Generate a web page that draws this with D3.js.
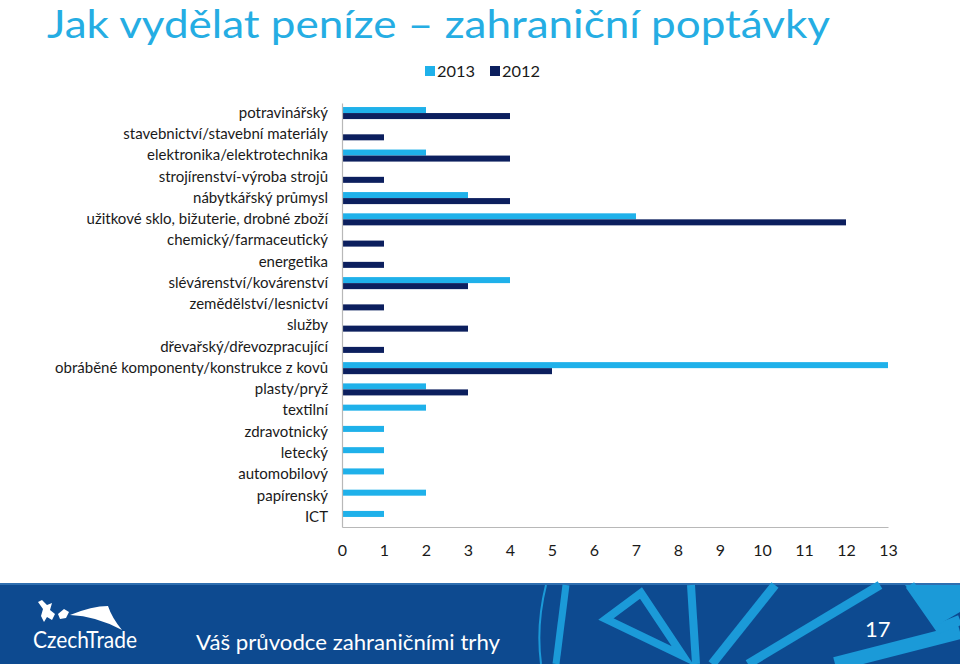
<!DOCTYPE html>
<html>
<head>
<meta charset="utf-8">
<script src="https://cdn.jsdelivr.net/npm/d3@7"></script>
<style>
  html, body { margin: 0; padding: 0; background: #fff; }
  svg { display: block; }
  text { font-family: Lato, "Open Sans", sans-serif; }
</style>
</head>
<body>
<svg id="chart" width="960" height="664"></svg>
<script>
const categories = [
  "potravinářský",
  "stavebnictví/stavební materiály",
  "elektronika/elektrotechnika",
  "strojírenství-výroba strojů",
  "nábytkářský průmysl",
  "užitkové sklo, bižuterie, drobné zboží",
  "chemický/farmaceutický",
  "energetika",
  "slévárenství/kovárenství",
  "zemědělství/lesnictví",
  "služby",
  "dřevařský/dřevozpracující",
  "obráběné komponenty/konstrukce z kovů",
  "plasty/pryž",
  "textilní",
  "zdravotnický",
  "letecký",
  "automobilový",
  "papírenský",
  "ICT"
];
const series = ["2013", "2012"];
const values2013 = [2, 0, 2, 0, 3, 7, 0, 0, 4, 0, 0, 0, 13, 2, 2, 1, 1, 1, 2, 1];
const values2012 = [4, 1, 4, 1, 4, 12, 1, 1, 3, 1, 3, 1, 5, 3, 0, 0, 0, 0, 0, 0];
const xTicks = [0, 1, 2, 3, 4, 5, 6, 7, 8, 9, 10, 11, 12, 13];
const title = "Jak vydělat peníze – zahraniční poptávky";
const footerText = "Váš průvodce zahraničními trhy";
const pageNumber = "17";

const colors = { "2013": "#1fb1ea", "2012": "#0c1f5e" };
const svg = d3.select("#chart");

// Title
svg.append("text")
  .attr("x", 47).attr("y", 38)
  .attr("font-size", 39)
  .attr("fill", "#25ade3")
  .attr("textLength", 783).attr("lengthAdjust", "spacingAndGlyphs")
  .text(title);

// Scales
const x = d3.scaleLinear().domain([0, 13]).range([342, 888]);
const y = d3.scaleBand().domain(categories).range([103, 527])
  .paddingInner(0.434).paddingOuter(0.19);
const ySub = d3.scaleBand().domain(series).range([0, y.bandwidth()]);

const data = categories.map((c, i) => ({ cat: c, vals: { "2013": values2013[i], "2012": values2012[i] } }));

// Bars
const g = svg.append("g");
const groups = g.selectAll("g.cat").data(data).join("g")
  .attr("class", "cat")
  .attr("transform", d => `translate(0,${y(d.cat)})`);
groups.selectAll("rect").data(d => series.map(s => ({ s, v: d.vals[s] })).filter(e => e.v > 0))
  .join("rect")
  .attr("x", x(0))
  .attr("y", e => ySub(e.s))
  .attr("width", e => x(e.v) - x(0))
  .attr("height", ySub.bandwidth())
  .attr("fill", e => colors[e.s]);

// Left axis
const yAxis = d3.axisLeft(y).tickSize(0).tickPadding(14);
const ya = svg.append("g").attr("transform", `translate(${x(0)},0)`).call(yAxis);
ya.select(".domain").attr("stroke", "#b8b8b8").attr("stroke-width", 1.2);
ya.selectAll("text").attr("font-size", 15).attr("fill", "#1a1a1a")
  .attr("font-family", "Lato, sans-serif");

// Bottom axis
const xAxis = d3.axisBottom(x).tickValues(xTicks).tickSize(0).tickPadding(18).tickFormat(d3.format("d"));
const xa = svg.append("g").attr("transform", `translate(0,527)`).call(xAxis);
xa.select(".domain").attr("stroke", "#b8b8b8").attr("stroke-width", 1.2);
xa.selectAll("text").attr("font-size", 16).attr("fill", "#1a1a1a")
  .attr("font-family", "Lato, sans-serif");

// Legend
const legend = svg.append("g").attr("transform", "translate(425,66)");
const legendItems = [{ s: "2013", dx: 0 }, { s: "2012", dx: 65 }];
legendItems.forEach(it => {
  legend.append("rect").attr("x", it.dx).attr("y", 0).attr("width", 10).attr("height", 10).attr("fill", colors[it.s]);
  legend.append("text").attr("x", it.dx + 12).attr("y", 11).attr("font-size", 16).attr("fill", "#1a1a1a")
    .attr("textLength", 38).attr("lengthAdjust", "spacingAndGlyphs").text(it.s);
});

// Footer
const footer = svg.append("g");
footer.append("rect").attr("x", 0).attr("y", 584).attr("width", 960).attr("height", 80).attr("fill", "#0d4a90");
footer.append("rect").attr("x", 0).attr("y", 583).attr("width", 960).attr("height", 2).attr("fill", "#2f6fb0");

const deco = footer.append("g").attr("fill", "none").attr("stroke", "#1b9ad8").attr("stroke-linejoin", "miter");
deco.append("path").attr("d", "M541,664 Q536,625 546,585").attr("stroke-width", 2);
deco.append("path").attr("d", "M556,664 L566,585").attr("stroke-width", 7);
deco.append("path").attr("d", "M606,619 L641,593 L683,656 Z").attr("stroke-width", 8);
deco.append("path").attr("d", "M691,585 L696,664").attr("stroke-width", 8);
deco.append("path").attr("d", "M712,664 L775,585").attr("stroke-width", 9);
deco.append("path").attr("d", "M748,664 L880,585").attr("stroke-width", 9);
deco.append("path").attr("d", "M835,664 L960,632").attr("stroke-width", 14);
deco.append("path").attr("d", "M910,585 L940,628 L960,620").attr("stroke-width", 10);
footer.append("path").attr("d", "M905,585 L960,585 L960,612 L938,625 Z").attr("fill", "#1b9ad8");

// Logo
const logo = footer.append("g").attr("fill", "#ffffff");
logo.append("path").attr("d", "M70,615 Q92,606 108,606 Q112,618 122,630 Q96,616 70,615 Z");
logo.append("path").attr("d", "M38,602 L42,600 L47,605 L52,603 L50,610 L55,614 L52,620 L47,617 L44,622 L41,616 L43,609 Z");
logo.append("path").attr("d", "M58,614 L64,609 L69,612 L66,618 L60,619 Z");
footer.append("text").attr("x", 33).attr("y", 648).attr("font-size", 24).attr("fill", "#fff")
  .attr("textLength", 104).attr("lengthAdjust", "spacingAndGlyphs").text("CzechTrade");

footer.append("text").attr("x", 196).attr("y", 650).attr("font-size", 22).attr("fill", "#fff")
  .attr("textLength", 304).attr("lengthAdjust", "spacingAndGlyphs").text(footerText);
footer.append("text").attr("x", 865).attr("y", 637).attr("font-size", 22).attr("fill", "#fff").text(pageNumber);
</script>
</body>
</html>
